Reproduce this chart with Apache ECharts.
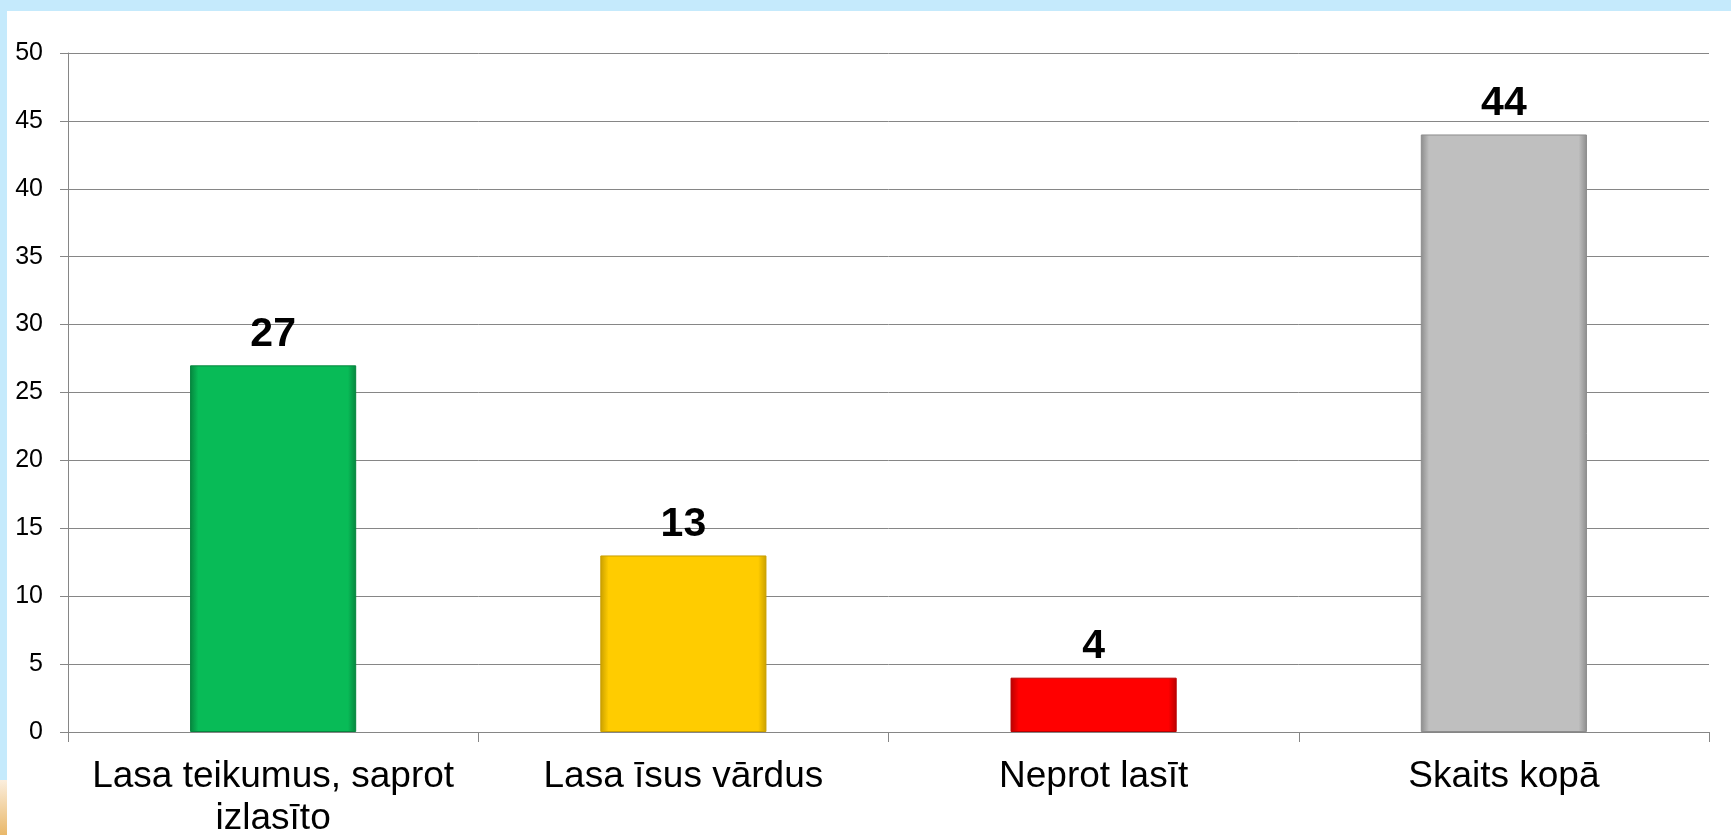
<!DOCTYPE html>
<html>
<head>
<meta charset="utf-8">
<script src="https://cdn.jsdelivr.net/npm/echarts@6/dist/echarts.min.js"></script>
<style>
  html, body { margin: 0; padding: 0; width: 1731px; height: 835px; overflow: hidden; background: #c5eafc; }
  #chart { position: absolute; left: 7px; top: 11px; width: 1724px; height: 824px; background: #ffffff; }
  /* bit of the slide picture peeking out at bottom left */
  #corner { position: absolute; left: 0; top: 780px; width: 7px; height: 55px;
            background: linear-gradient(to bottom, #fbeedd, #e9b86a); }
</style>
</head>
<body>
<div id="corner"></div>
<div id="chart"></div>
<script>
// categories and values
const categories = ['Lasa teikumus, saprot\nizlasīto', 'Lasa īsus vārdus', 'Neprot lasīt', 'Skaits kopā'];
const values = [27, 13, 4, 44];
const barColors = ['#08bb57', '#ffcc00', '#ff0000', '#bfbfbf'];
const edgeColors = ['#06853e', '#c99f00', '#b80000', '#8c8c8c'];

const chart = echarts.init(document.getElementById('chart'));

// bevel-ish look: darker on the sides, flat in the middle
function barFill(i) {
  return new echarts.graphic.LinearGradient(0, 0, 1, 0, [
    { offset: 0, color: edgeColors[i] },
    { offset: 0.05, color: barColors[i] },
    { offset: 0.95, color: barColors[i] },
    { offset: 1, color: edgeColors[i] }
  ]);
}

const option = {
  backgroundColor: 'transparent',
  animation: false,
  // labels run off the bottom on purpose, so keep the grid where it is
  grid: { left: 61, right: 22, top: 42, bottom: 103, containLabel: false, outerBoundsMode: 'none' },
  xAxis: {
    type: 'category',
    data: categories,
    axisLine: { lineStyle: { color: '#868686', width: 1 } },
    axisTick: { show: true, length: 10, lineStyle: { color: '#868686' } },
    axisLabel: {
      color: '#000',
      fontFamily: 'Liberation Sans, Arial, sans-serif',
      fontSize: 37,
      lineHeight: 42,
      margin: 24,
      interval: 0
    }
  },
  yAxis: {
    type: 'value',
    min: 0,
    max: 50,
    interval: 5,
    axisLine: { show: true, lineStyle: { color: '#868686', width: 1 } },
    axisTick: { show: true, length: 8, lineStyle: { color: '#868686' } },
    splitLine: { lineStyle: { color: '#868686', width: 1 } },
    axisLabel: {
      color: '#000',
      fontFamily: 'Liberation Sans, Arial, sans-serif',
      fontSize: 25,
      margin: 25
    }
  },
  series: [{
    type: 'bar',
    barWidth: '40.5%',
    data: values.map((v, i) => ({
      value: v,
      itemStyle: { color: barFill(i), borderColor: edgeColors[i], borderWidth: 1 }
    })),
    label: {
      show: true,
      position: 'top',
      distance: 10,
      color: '#000',
      fontFamily: 'Liberation Sans, Arial, sans-serif',
      fontWeight: 'bold',
      fontSize: 41
    }
  }]
};

chart.setOption(option);
</script>
</body>
</html>
